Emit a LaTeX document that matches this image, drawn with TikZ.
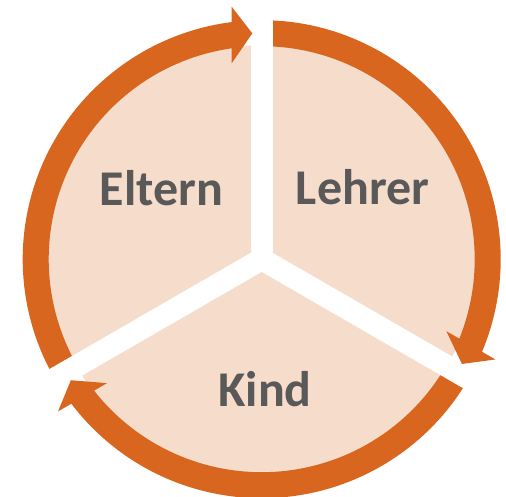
\documentclass[tikz,border=0pt]{standalone}
\usepackage{fontspec}
\setmainfont{Carlito}
\definecolor{ringorange}{HTML}{D9661F}
\definecolor{piefill}{HTML}{F6DCCB}
\definecolor{labelgray}{HTML}{595959}
\begin{document}
\begin{tikzpicture}[x=1pt,y=1pt,
  ringarc/.style={draw=ringorange, line width=26pt},
  gapline/.style={draw=white, line width=22pt},
  headtri/.style={fill=ringorange},
  lbl/.style={font=\fontsize{50}{60}\selectfont\bfseries, text=labelgray, anchor=base, inner sep=0pt}]
\useasboundingbox (0,0) rectangle (506,497);
\coordinate (C) at (261.7,237.8);
\fill[piefill] (C) circle[radius=214];
\foreach \r in {0,-120,-240}{
  \begin{scope}[shift={(C)}, rotate=\r]
    \draw[ringarc] (212:226) arc[start angle=212, end angle=97, radius=226];
  \end{scope}}
\foreach \r in {0,-120,-240}{
  \begin{scope}[shift={(C)}, rotate=\r]
    \draw[gapline] (0,0) -- (90:250);
  \end{scope}}
\foreach \r in {0,-120,-240}{
  \begin{scope}[shift={(C)}, rotate=\r]
    \fill[headtri] (-30,252.5) -- (-9.4,225.8) -- (-30,195.9) -- cycle;
  \end{scope}}
\node[lbl] (eltern) at (161.5,291.3) {Eltern};
\node[lbl] (lehrer) at (362.5,292) {Lehrer};
\node[lbl] (kind) at (265,90.3) {Kind};
\end{tikzpicture}
\end{document}
